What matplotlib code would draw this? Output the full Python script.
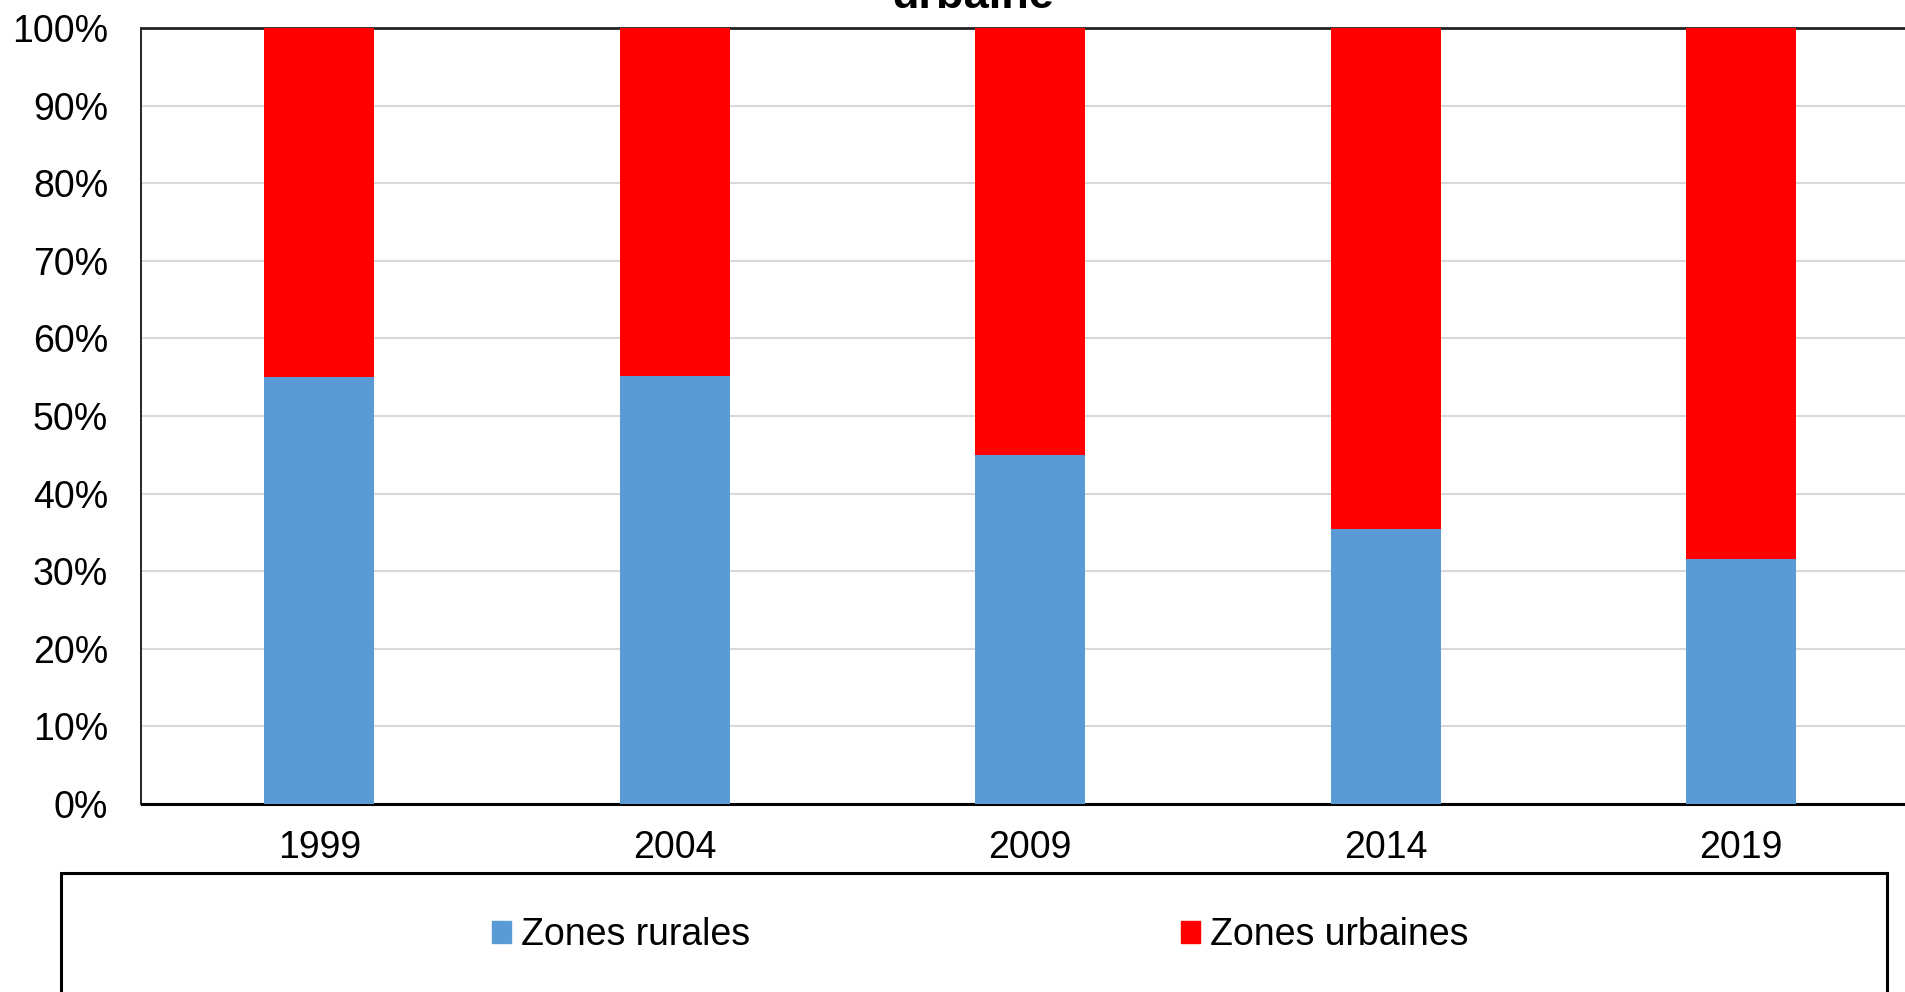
import numpy as np
import matplotlib.pyplot as plt
from matplotlib.patches import Patch, Rectangle

plt.rcParams['font.family'] = ['Liberation Sans', 'DejaVu Sans']

years = ['1999', '2004', '2009', '2014', '2019']
rurales = [55.0, 55.2, 45.0, 35.5, 31.6]
urbaines = [100 - v for v in rurales]

blue = '#5B9BD5'
red = '#FF0000'

W, H = 1906, 992
fig = plt.figure(figsize=(W / 100, H / 100), dpi=100)
# axes runs slightly past the right edge, as in the original
ax = fig.add_axes([141.5 / W, 1 - 804 / H, (1919 - 141.5) / W, (804 - 28) / H])

x = np.arange(len(years))
ax.bar(x, rurales, width=0.31, color=blue, linewidth=0, zorder=3)
ax.bar(x, urbaines, width=0.31, bottom=rurales, color=red, linewidth=0, zorder=3)

ax.set_xlim(-0.5, len(years) - 0.5)
ax.set_ylim(0, 100)
ax.set_yticks(np.arange(0, 101, 10))
ax.set_yticklabels(['%d%%' % v for v in range(0, 101, 10)])
ax.set_xticks(x)
ax.set_xticklabels(years)
ax.tick_params(axis='y', length=0, pad=24, labelsize=27)
ax.tick_params(axis='x', length=0, pad=19, labelsize=27)
ax.grid(axis='y', color='#D9D9D9', linewidth=1.5, zorder=0)

ax.spines['left'].set_linewidth(1.2)
ax.spines['bottom'].set_linewidth(2.2)
ax.spines['top'].set_linewidth(2.0)
ax.spines['top'].set_color('#222222')
ax.spines['right'].set_visible(False)

# title, top line is cut off by the image edge
fig.text(973 / W, 1 - 8 / H, 'urbaine', ha='center', va='baseline',
         fontsize=32.5, fontweight='bold')

# legend frame extends below / beyond the figure
fig.patches.append(Rectangle((61 / W, -0.2), (1887 - 61) / W, 1.2 - 873 / H,
                             transform=fig.transFigure, fill=False,
                             edgecolor='black', linewidth=2.2))

handles = [Patch(color=blue, label='Zones rurales'),
           Patch(color=red, label='Zones urbaines')]
fig.legend(handles=handles, loc='center', ncol=2, frameon=False,
           bbox_to_anchor=(980 / W, 1 - 935 / H), fontsize=27,
           handlelength=0.51, handleheight=0.51, handletextpad=0.26,
           columnspacing=11.5, borderpad=0)

fig.savefig('out.png', dpi=100)
